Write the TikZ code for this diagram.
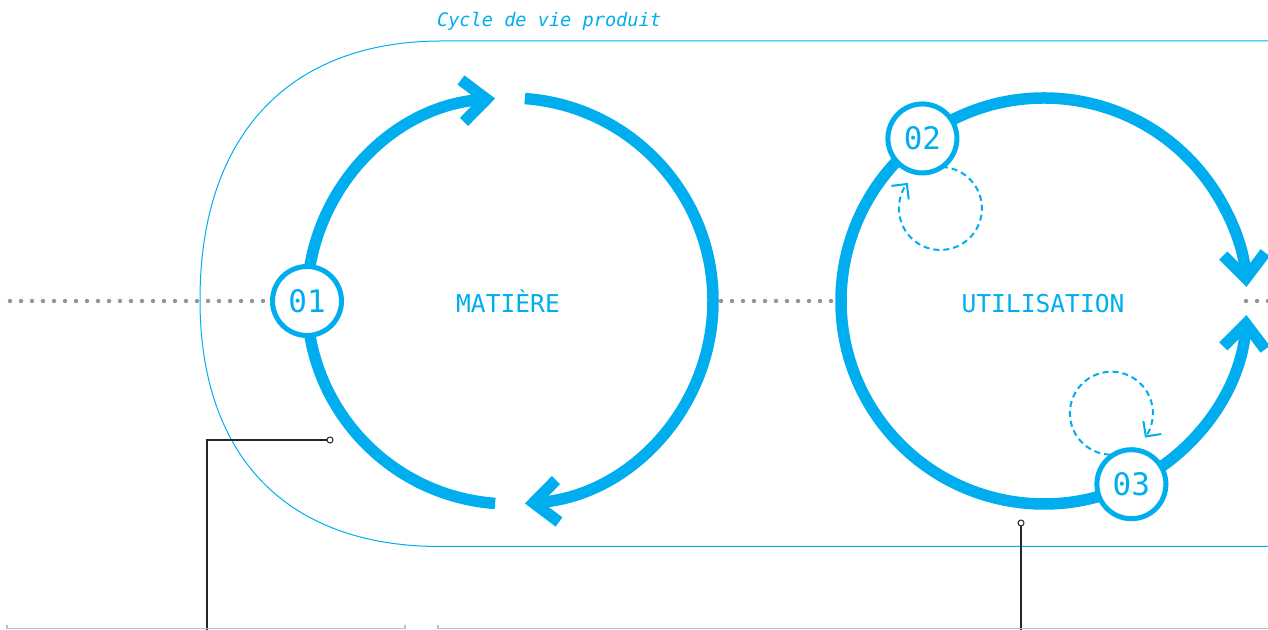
\documentclass[tikz,border=0pt]{standalone}
\usepackage{fontspec}
\setmonofont{DejaVu Sans Mono}
\usetikzlibrary{arrows.meta,calc,positioning,backgrounds}
\definecolor{cyclebleu}{HTML}{00AEEF}
\definecolor{pointgris}{HTML}{959595}
\definecolor{reglegris}{HTML}{BDBDBD}
\tikzset{
	etape/.style={circle,draw=cyclebleu,line width=2.5pt,fill=white,minimum size=34.5pt,inner sep=0pt,text=cyclebleu,font=\ttfamily\fontsize{15.5}{15.5}\selectfont},
	phase/.style={anchor=base,text=cyclebleu,font=\ttfamily\fontsize{12.3}{12.3}\selectfont},
	flux/.style={draw=cyclebleu,line width=5.75pt},
	fleche/.style={flux,-{Straight Barb[length=12pt,width=21pt]}},
	boucle/.style={draw=cyclebleu,line width=1pt,dash pattern=on 3pt off 2pt,-{Straight Barb[length=5.5pt,width=11pt]}},
	pointille/.style={draw=pointgris,line width=2.2pt,line cap=round,dash pattern=on 0pt off 5.5pt},
	contour/.style={draw=cyclebleu,line width=0.5pt},
	repere/.style={draw=black!85,line width=0.6pt},
	pastille/.style={circle,draw=black!85,line width=0.5pt,fill=white,inner sep=0pt,minimum size=3pt},
	regle/.style={draw=reglegris,line width=0.8pt}
}
\begin{document}
\begin{tikzpicture}[x=0.5pt,y=0.5pt]
	\useasboundingbox (0,0) rectangle (1268,630);
	\coordinate (c1) at (510,329);
	\coordinate (c2) at (1044,329);
	\node[etape] (n01) at ($(c1)+(180:203)$) {01};
	\node[etape] (n02) at ($(c2)+(126.8:203)$) {02};
	\node[etape] (n03) at ($(c2)+(-64.5:203)$) {03};
	\node[phase] (matiere) at (508,317) {MATIÈRE};
	\node[phase] (utilisation) at (1043,317) {UTILISATION};
	\node[anchor=base west,text=cyclebleu,font=\ttfamily\itshape\fontsize{9.3}{9.3}\selectfont] (titre) at (430,603) {Cycle de vie produit};
	\node[pastille] (pin1) at (330,190) {};
	\node[pastille] (pin2) at (1021,107) {};
	\coordinate (pied1) at (207,0);
	\coordinate (pied2) at (1021,0);
	
	\begin{pgfonlayer}{background}
		\draw[fleche]	(n01.center) arc[start angle=180,end angle=94.2,radius=203];
		\draw[fleche]	($(c1)+(85.8:203)$) arc[start angle=85.8,end angle=-85.8,radius=203];
		\draw[flux]		($(c1)+(-94.2:203)$) arc[start angle=-94.2,end angle=-180,radius=203];
		\draw[fleche]	(n02.center) arc[start angle=126.8,end angle=4,radius=203];
		\draw[fleche]	(n03.center) arc[start angle=-64.5,end angle=-4,radius=203];
		\draw[flux]		(n02.center) arc[start angle=126.8,end angle=295.5,radius=203];
		\draw[boucle]	($(n02)+(18,-70)+(88:41.5)$) arc[start angle=88,end angle=-218,radius=41.5];
		\draw[boucle]	($(n03)+(-20,71)+(-92:41.5)$) arc[start angle=-92,end angle=-396,radius=41.5];
		\draw[pointille]	(10,329) -- (n01);
		\draw[pointille]	(721,329) -- (832,329);
		\draw[pointille]	(1246,329) -- (1275,329);
	\end{pgfonlayer}
	
	\draw[contour] (1270,589) -- (442,589) .. controls (288,589) and (200,494) .. (200,330) .. controls (200,173) and (287,83.5) .. (440,83.5) -- (1270,83.5);
	
	\draw[repere] (pin1) -| (pied1);
	\draw[repere] (pin2) -- (pied2);
	
	\draw[regle] (7,5) -- (7,1.5) -- (405,1.5) -- (405,5);
	\draw[regle] (438,5) -- (438,1.5) -- (1270,1.5);
\end{tikzpicture}
\end{document}
